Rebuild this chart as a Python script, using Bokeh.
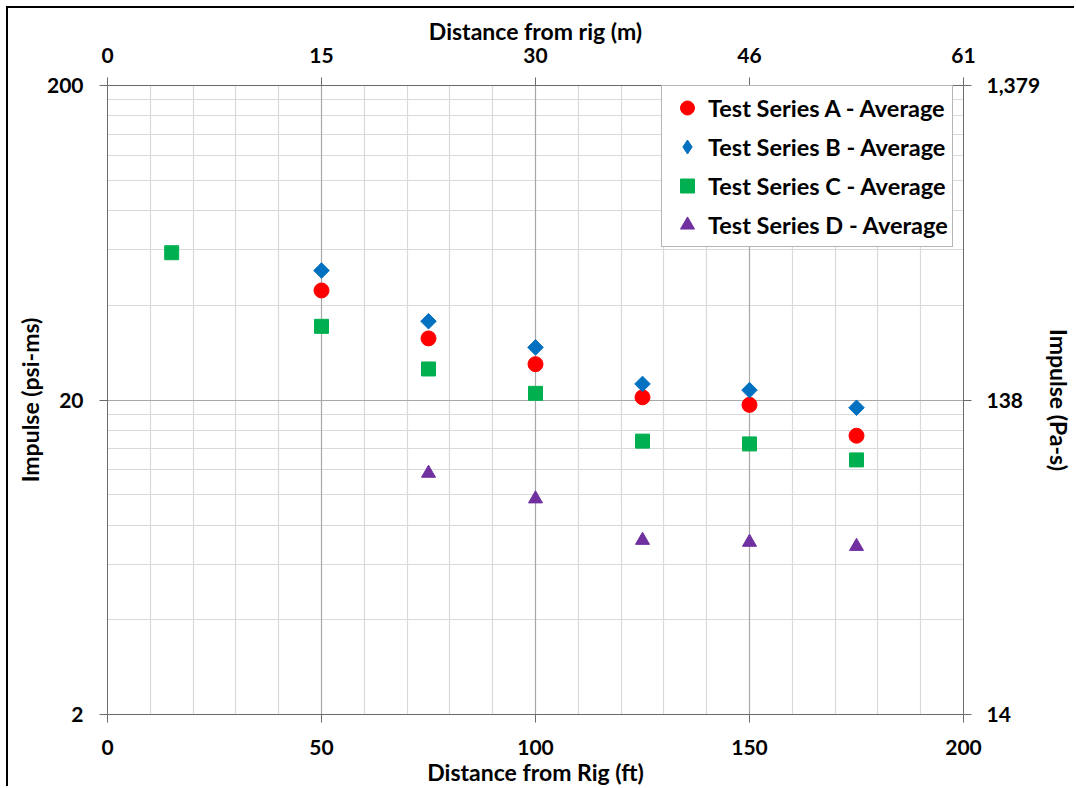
import math
from bokeh.plotting import figure
from bokeh.models import (Range1d, LinearAxis, LogAxis, FixedTicker, Grid, Legend, LegendItem)
from bokeh.embed import file_html
from bokeh.resources import INLINE

# ---- data ----
dist_a = [50, 75, 100, 125, 150, 175]
imp_a = [44.6, 31.4, 26.0, 20.4, 19.3, 15.4]
dist_b = [50, 75, 100, 125, 150, 175]
imp_b = [51.6, 35.6, 29.4, 22.5, 21.5, 18.9]
dist_c = [15, 50, 75, 100, 125, 150, 175]
imp_c = [58.8, 34.3, 25.1, 21.0, 14.8, 14.5, 12.9]
dist_d = [75, 100, 125, 150, 175]
imp_d = [11.7, 9.7, 7.16, 7.06, 6.85]

ft_ticks = [0, 50, 100, 150, 200]
m_labels = ["0", "15", "30", "46", "61"]
psi_ticks = [2, 20, 200]
pa_labels = ["14", "138", "1,379"]

FONT = "Lato"
TICK_SIZE = "21px"
TITLE_SIZE = "23px"
AXIS_COLOR = "#6b6b6b"

p = figure(width=1068, height=780, output_backend="svg", toolbar_location=None,
           x_range=Range1d(0, 200), y_range=Range1d(2, 200), y_axis_type="log",
           min_border_left=99, min_border_right=113, min_border_top=77, min_border_bottom=71,
           x_axis_location=None, y_axis_location=None)
p.styles = {"border-left": "2px solid #000", "border-top": "2px solid #000",
            "margin-left": "6px", "margin-top": "6px"}
p.outline_line_color = None
p.grid.visible = False
p.background_fill_color = "white"
p.border_fill_color = "white"

p.extra_x_ranges = {"m": Range1d(0, 200)}
p.extra_y_ranges = {"pa": Range1d(2, 200)}


def style_axis(ax, standoff, title_standoff):
    ax.axis_line_color = AXIS_COLOR
    ax.major_tick_line_color = AXIS_COLOR
    ax.major_tick_out = 8
    ax.major_tick_in = 0
    ax.minor_tick_line_color = None
    ax.major_label_text_font = FONT
    ax.major_label_text_font_style = "bold"
    ax.major_label_text_font_size = TICK_SIZE
    ax.major_label_text_color = "black"
    ax.axis_label_text_font = FONT
    ax.axis_label_text_font_style = "bold"
    ax.axis_label_text_font_size = TITLE_SIZE
    ax.axis_label_text_color = "black"
    ax.major_label_standoff = standoff
    ax.axis_label_standoff = title_standoff


xb = LinearAxis(axis_label="Distance from Rig (ft)", ticker=FixedTicker(ticks=ft_ticks))
style_axis(xb, 17, 0)
p.add_layout(xb, "below")

xt = LinearAxis(axis_label="Distance from rig (m)", x_range_name="m",
                ticker=FixedTicker(ticks=ft_ticks),
                major_label_overrides={t: l for t, l in zip(ft_ticks, m_labels)})
style_axis(xt, 15, 0)
p.add_layout(xt, "above")

yl = LogAxis(axis_label="Impulse (psi-ms)", ticker=FixedTicker(ticks=psi_ticks),
             major_label_overrides={t: str(t) for t in psi_ticks})
style_axis(yl, 16, 0)
p.add_layout(yl, "left")

yr = LogAxis(axis_label="Impulse (Pa-s)", y_range_name="pa", ticker=FixedTicker(ticks=psi_ticks),
             major_label_overrides={t: l for t, l in zip(psi_ticks, pa_labels)})
style_axis(yr, 15, 2)
p.add_layout(yr, "right")

# grids
minor_x = [v for v in range(10, 200, 10) if v % 50 != 0]
major_x = [50, 100, 150]
minor_y = [k * 2 for k in range(2, 10)] + [k * 20 for k in range(2, 10)]
major_y = [20]
p.add_layout(Grid(dimension=0, ticker=FixedTicker(ticks=minor_x), grid_line_color="#d9d9d9", grid_line_width=1.2))
p.add_layout(Grid(dimension=1, ticker=FixedTicker(ticks=minor_y), grid_line_color="#d9d9d9", grid_line_width=1.2))
p.add_layout(Grid(dimension=0, ticker=FixedTicker(ticks=major_x), grid_line_color="#a8a8a8", grid_line_width=1.2))
p.add_layout(Grid(dimension=1, ticker=FixedTicker(ticks=major_y), grid_line_color="#a8a8a8", grid_line_width=1.2))

BLUE = "#0070C0"
ra = p.scatter(dist_a, imp_a, marker="circle", size=15, fill_color="#FF0000", line_color="#FF0000")
rb = p.scatter(dist_b, imp_b, marker="square", size=11, angle=math.pi / 4,
               fill_color=BLUE, line_color=BLUE)
# legend key for series B (diamond shape); hidden from the plot itself
rb_key = p.scatter(dist_b, imp_b, marker="diamond", size=16, fill_color=BLUE, line_color=BLUE,
                   visible=False)
rc = p.scatter(dist_c, imp_c, marker="square", size=14, fill_color="#00B050", line_color="#00B050")
rd = p.scatter(dist_d, imp_d, marker="triangle", size=14, fill_color="#7030A0", line_color="#7030A0")

legend = Legend(items=[
    LegendItem(label="Test Series A - Average", renderers=[ra]),
    LegendItem(label="Test Series B - Average", renderers=[rb_key]),
    LegendItem(label="Test Series C - Average", renderers=[rc]),
    LegendItem(label="Test Series D - Average", renderers=[rd]),
], location=(554, 467))
legend.label_text_font = FONT
legend.label_text_font_style = "bold"
legend.label_text_font_size = "23.5px"
legend.label_text_color = "black"
legend.glyph_width = 42
legend.glyph_height = 35
legend.label_height = 28
legend.label_standoff = 0
legend.spacing = 4
legend.padding = 4
legend.margin = 0
legend.click_policy = "none"
legend.border_line_color = "#6b6b6b"
legend.border_line_width = 1
legend.background_fill_color = "white"
legend.background_fill_alpha = 1
p.add_layout(legend, "center")

open("out.html", "w").write(file_html(p, INLINE))
